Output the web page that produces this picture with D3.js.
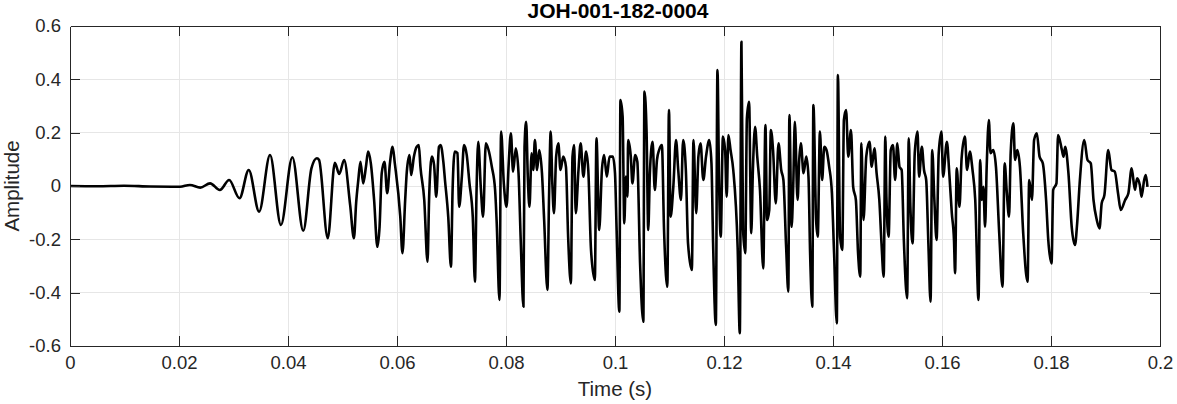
<!DOCTYPE html>
<html>
<head>
<meta charset="utf-8">
<script src="https://cdn.jsdelivr.net/npm/d3@7"></script>
<style>
  html, body { margin: 0; padding: 0; background: #fff; }
  svg { display: block; font-family: "Liberation Sans", Arial, Helvetica, sans-serif; }
</style>
</head>
<body>
<svg id="chart" width="1177" height="404"></svg>
<script>
const titleText = "JOH-001-182-0004";
const xLabelText = "Time (s)";
const yLabelText = "Amplitude";

const xTicks = [0, 0.02, 0.04, 0.06, 0.08, 0.1, 0.12, 0.14, 0.16, 0.18, 0.2];
const xTickLabels = ["0", "0.02", "0.04", "0.06", "0.08", "0.1", "0.12", "0.14", "0.16", "0.18", "0.2"];
const yTicks = [-0.6, -0.4, -0.2, 0, 0.2, 0.4, 0.6];
const yTickLabels = ["-0.6", "-0.4", "-0.2", "0", "0.2", "0.4", "0.6"];

const time = [
0, 0.005, 0.0099, 0.0147, 0.0202, 0.0220, 0.0239, 0.0257, 0.0275, 0.0292,
0.0311, 0.0328, 0.0347, 0.0367, 0.0387, 0.0408, 0.0428, 0.0443, 0.0453, 0.0457,
0.0473, 0.0486, 0.0494, 0.0503, 0.0514, 0.0521, 0.0525, 0.0529, 0.0533, 0.0538,
0.0543, 0.0547, 0.0552, 0.0558, 0.0564, 0.0568, 0.0572, 0.0577, 0.0582, 0.0587,
0.0592, 0.0596, 0.0606, 0.0610, 0.0615, 0.0618, 0.0623, 0.0626, 0.0631, 0.0636,
0.0640, 0.0643, 0.0650, 0.0656, 0.0659, 0.0664, 0.0668, 0.0672, 0.0677, 0.0680,
0.0685, 0.0688, 0.0694, 0.0699, 0.0702, 0.0706, 0.0711, 0.0714, 0.0719, 0.0723,
0.0728, 0.0733, 0.0739, 0.0743, 0.0746, 0.0749, 0.0754, 0.0758, 0.0763, 0.0768,
0.0774, 0.0780, 0.0783, 0.0788, 0.0791, 0.0796, 0.0801, 0.0805, 0.0809, 0.0813,
0.0818, 0.0823, 0.0827, 0.0832, 0.0834, 0.0837, 0.0840, 0.0843, 0.0847, 0.0850,
0.0853, 0.0857, 0.0861, 0.0866, 0.0870, 0.0876, 0.0879, 0.0882, 0.0885, 0.0888,
0.0892, 0.0896, 0.0900, 0.0905, 0.0910, 0.0914, 0.0919, 0.0922, 0.0925, 0.0928,
0.0933, 0.0937, 0.0942, 0.0947, 0.0951, 0.0956, 0.0963, 0.0966, 0.0971, 0.0976,
0.0980, 0.0985, 0.0990, 0.0996, 0.1000, 0.1003, 0.1008, 0.1010, 0.1014, 0.1017,
0.1020, 0.1023, 0.1024, 0.1029, 0.1032, 0.1037, 0.1041, 0.1046, 0.1052, 0.1054,
0.1058, 0.1061, 0.1064, 0.1069, 0.1073, 0.1077, 0.1081, 0.1086, 0.1090, 0.1096,
0.1099, 0.1102, 0.1107, 0.1112, 0.1116, 0.1121, 0.1125, 0.1130, 0.1134, 0.1141,
0.1144, 0.1149, 0.1153, 0.1157, 0.1162, 0.1167, 0.1173, 0.1177, 0.1180, 0.1185,
0.1188, 0.1191, 0.1194, 0.1198, 0.1202, 0.1205, 0.1208, 0.1212, 0.1217, 0.1225,
0.1229, 0.1232, 0.1235, 0.1239, 0.1242, 0.1246, 0.1250, 0.1253, 0.1257, 0.1261,
0.1266, 0.1272, 0.1276, 0.1279, 0.1283, 0.1286, 0.1290, 0.1295, 0.1300, 0.1305,
0.1309, 0.1314, 0.1318, 0.1320, 0.1324, 0.1327, 0.1330, 0.1335, 0.1338, 0.1341,
0.1346, 0.1351, 0.1355, 0.1358, 0.1362, 0.1364, 0.1369, 0.1372, 0.1376, 0.1380,
0.1384, 0.1388, 0.1393, 0.1398, 0.1402, 0.1407, 0.1409, 0.1413, 0.1417, 0.1420,
0.1424, 0.1428, 0.1433, 0.1437, 0.1442, 0.1446, 0.1450, 0.1452, 0.1456, 0.1461,
0.1467, 0.1471, 0.1476, 0.1480, 0.1485, 0.1489, 0.1493, 0.1496, 0.1498, 0.1502,
0.1506, 0.1510, 0.1514, 0.1518, 0.1522, 0.1526, 0.1530, 0.1536, 0.1539, 0.1542,
0.1546, 0.1550, 0.1555, 0.1558, 0.1563, 0.1567, 0.1571, 0.1575, 0.1579, 0.1582,
0.1586, 0.1590, 0.1594, 0.1599, 0.1602, 0.1609, 0.1613, 0.1618, 0.1622, 0.1624,
0.1627, 0.1632, 0.1636, 0.1642, 0.1646, 0.1651, 0.1656, 0.1661, 0.1667, 0.1670,
0.1673, 0.1676, 0.1679, 0.1682, 0.1686, 0.1689, 0.1694, 0.1699, 0.1705, 0.1711,
0.1715, 0.1719, 0.1723, 0.1726, 0.1731, 0.1734, 0.1738, 0.1743, 0.1749, 0.1757,
0.1760, 0.1765, 0.1769, 0.1774, 0.1779, 0.1785, 0.1791, 0.1795, 0.1801, 0.1804,
0.1810, 0.1813, 0.1820, 0.1823, 0.1826, 0.1832, 0.1838, 0.1844, 0.1848, 0.1853,
0.1861, 0.1867, 0.1873, 0.1878, 0.1884, 0.1889, 0.1893, 0.1898, 0.1905, 0.1911,
0.1917, 0.1923, 0.1928, 0.1936, 0.1942, 0.1948, 0.1954, 0.1958, 0.1963, 0.1966,
0.1971, 0.1974, 0.1977
];

const amplitude = [
0, -0.001, 0.001, -0.002, -0.003, 0.004, -0.006, 0.010, -0.015, 0.0225,
-0.046, 0.060, -0.096, 0.116, -0.146, 0.108, -0.168, 0.066, 0.104, 0.0975,
-0.196, 0.087, 0.045, 0.0975, -0.071, -0.196, -0.064, 0.0225, 0.091, 0.010,
0.072, 0.129, 0.085, -0.0525, -0.228, -0.153, 0.048, 0.091, -0.027, 0.085,
0.147, 0.085, -0.115, -0.252, -0.0525, 0.054, 0.116, 0.041, 0.110, 0.147,
0.154, 0.072, -0.0525, -0.284, -0.040, 0.110, 0.079, -0.040, 0.147, 0.154,
0.091, 0.0225, -0.115, -0.303, -0.015, 0.129, 0.123, -0.078, 0.035, 0.154,
0.116, 0.010, -0.115, -0.359, -0.015, 0.166, -0.015, -0.115, 0.160, 0.135,
0.072, -0.015, -0.140, -0.4275, 0.204, 0.010, -0.078, 0.085, 0.198, 0.054,
0.141, 0.048, -0.2025, -0.4525, 0.147, 0.241, 0.035, -0.078, 0.123, 0.060,
0.1725, 0.060, 0.135, 0.048, -0.1275, -0.390, -0.040, 0.204, 0.010, -0.102,
0.110, 0.160, 0.060, 0.110, 0.072, -0.190, -0.365, 0.110, 0.154, -0.102,
0.060, 0.160, 0.035, 0.129, 0.060, -0.240, -0.3525, 0.179, -0.165, 0.060,
0.116, 0.035, 0.110, 0.110, 0.048, -0.165, -0.471, 0.3225, 0.260, -0.140,
0.035, -0.040, 0.1725, 0.110, 0.010, 0.116, 0.091, -0.290, -0.509, 0.354,
0.198, -0.165, 0.048, 0.166, -0.015, 0.0975, 0.135, 0.154, -0.165, -0.378,
0.285, -0.115, -0.003, 0.1725, 0.060, -0.0525, 0.1725, 0.060, -0.215, -0.315,
0.1725, -0.102, 0.110, 0.160, 0.0225, 0.110, 0.1725, 0.085, -0.215, -0.521,
0.435, 0.010, -0.190, 0.185, 0.135, -0.040, 0.191, 0.135, 0.060, -0.228,
-0.552, 0.541, -0.165, -0.252, 0.254, 0.316, -0.177, 0.060, 0.222, 0.110,
-0.015, -0.309, 0.229, -0.1275, -0.090, 0.210, 0.135, -0.065, 0.160, 0.060,
0.0225, -0.228, -0.396, 0.266, -0.153, -0.003, 0.241, -0.0525, 0.0975, 0.160,
0.048, 0.110, 0.035, -0.252, -0.4525, 0.304, -0.1275, -0.190, 0.204, 0.0225,
0.147, 0.135, 0.072, -0.027, -0.252, -0.515, 0.416, -0.190, -0.240, 0.2475,
0.285, 0.110, 0.210, -0.003, -0.0525, -0.252, -0.340, 0.160, -0.1275, 0.110,
0.166, 0.072, 0.141, 0.048, -0.0525, -0.215, -0.340, 0.185, -0.040, -0.190,
0.135, 0.154, 0.0225, 0.160, 0.072, 0.060, -0.2025, -0.421, 0.179, -0.078,
-0.215, 0.123, 0.204, 0.035, 0.147, 0.060, 0.0225, -0.215, -0.434, 0.135,
-0.0525, -0.2025, 0.123, 0.204, 0.035, 0.166, 0.060, -0.102, -0.2025, -0.327,
0.066, -0.078, 0.104, 0.185, 0.060, 0.129, 0.060, -0.0525, -0.4275, 0.0975,
-0.0525, -0.003, -0.153, 0.072, 0.2475, 0.123, 0.135, 0.072, -0.177, -0.378,
0.085, -0.027, -0.115, 0.123, 0.235, 0.0975, 0.135, 0.072, -0.177, -0.359,
0.0225, -0.0525, 0.1725, 0.198, 0.110, 0.085, -0.0525, -0.2025, -0.290, -0.015,
0.010, 0.191, 0.135, 0.110, 0.147, 0.048, -0.153, -0.221, -0.140, 0.0225,
0.1725, 0.0975, 0.085, -0.0525, -0.1275, -0.159, -0.065, -0.034, 0.135, 0.060,
0.054, -0.027, -0.090, -0.0525, -0.027, 0.066, -0.015, 0.029, 0.004, -0.040,
0.0225, 0.041, -0.003
];

const W = 1177, H = 404;
const margin = { left: 70, right: 17, top: 26, bottom: 58 };
const svg = d3.select("#chart");

const x = d3.scaleLinear().domain([0, 0.2]).range([margin.left, W - margin.right]);
const y = d3.scaleLinear().domain([-0.6, 0.6]).range([H - margin.bottom, margin.top]);

const axisColor = "#262626";
const gridColor = "#e6e6e6";

// grid
const grid = svg.append("g");
grid.selectAll("line.vx").data(xTicks).join("line")
  .attr("x1", d => x(d)).attr("x2", d => x(d))
  .attr("y1", y(-0.6)).attr("y2", y(0.6))
  .attr("stroke", gridColor).attr("stroke-width", 1).attr("shape-rendering", "crispEdges");
grid.selectAll("line.hy").data(yTicks).join("line")
  .attr("y1", d => y(d)).attr("y2", d => y(d))
  .attr("x1", x(0)).attr("x2", x(0.2))
  .attr("stroke", gridColor).attr("stroke-width", 1).attr("shape-rendering", "crispEdges");

// data line
const pts = time.map((t, i) => [t, amplitude[i]]);
const lineGen = d3.line().curve(d3.curveMonotoneX).x(d => x(d[0])).y(d => y(d[1]));
svg.append("path").datum(pts)
  .attr("d", lineGen)
  .attr("fill", "none")
  .attr("stroke", "#000")
  .attr("stroke-width", 2.6)
  .attr("stroke-linejoin", "round");

// axes (MATLAB style: inward ticks, box)
const tickLen = 10;
const fmtX = d => xTickLabels[xTicks.indexOf(d)];
const fmtY = d => yTickLabels[yTicks.indexOf(d)];

const axB = svg.append("g").attr("transform", `translate(0,${y(-0.6)})`)
  .call(d3.axisBottom(x).tickValues(xTicks).tickFormat(fmtX).tickSizeInner(-tickLen).tickSizeOuter(0).tickPadding(10));
const axT = svg.append("g").attr("transform", `translate(0,${y(0.6)})`)
  .call(d3.axisTop(x).tickValues(xTicks).tickFormat("").tickSizeInner(-tickLen).tickSizeOuter(0));
const axL = svg.append("g").attr("transform", `translate(${x(0)},0)`)
  .call(d3.axisLeft(y).tickValues(yTicks).tickFormat(fmtY).tickSizeInner(-tickLen).tickSizeOuter(0).tickPadding(9));
const axR = svg.append("g").attr("transform", `translate(${x(0.2)},0)`)
  .call(d3.axisRight(y).tickValues(yTicks).tickFormat("").tickSizeInner(-tickLen).tickSizeOuter(0));

[axB, axT, axL, axR].forEach(g => {
  g.selectAll(".domain").attr("stroke", axisColor).attr("stroke-width", 1).attr("shape-rendering", "crispEdges");
  g.selectAll(".tick line").attr("stroke", axisColor).attr("stroke-width", 1).attr("shape-rendering", "crispEdges");
  g.selectAll(".tick text").attr("fill", axisColor).style("font-size", "18.5px")
    .style("font-family", '"Liberation Sans", Arial, sans-serif');
});
axL.selectAll(".tick line").filter(d => d === -0.6 || d === 0.6).remove();
axR.selectAll(".tick line").filter(d => d === -0.6 || d === 0.6).remove();
axB.selectAll(".tick line").filter(d => d === 0 || d === 0.2).remove();
axT.selectAll(".tick line").filter(d => d === 0 || d === 0.2).remove();

// labels
svg.append("text").attr("x", (x(0) + x(0.2)) / 2).attr("y", 396)
  .attr("text-anchor", "middle").attr("fill", axisColor)
  .style("font-size", "20.5px").text(xLabelText);
svg.append("text").attr("transform", `translate(19,${(y(-0.6) + y(0.6)) / 2}) rotate(-90)`)
  .attr("text-anchor", "middle").attr("fill", axisColor)
  .style("font-size", "20.5px").text(yLabelText);
svg.append("text").attr("x", (x(0) + x(0.2)) / 2 + 3).attr("y", 18)
  .attr("text-anchor", "middle").attr("fill", "#000")
  .style("font-size", "21px").style("font-weight", "bold").text(titleText);
</script>
</body>
</html>
